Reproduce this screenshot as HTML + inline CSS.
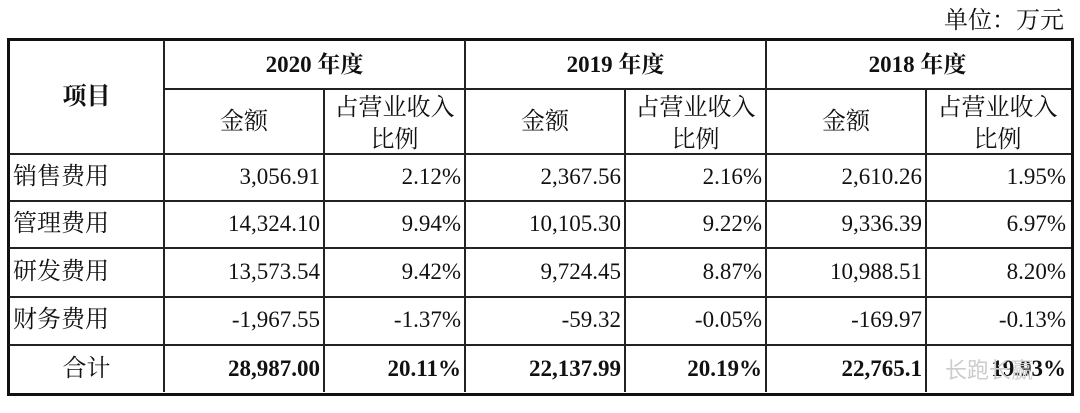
<!DOCTYPE html>
<html><head><meta charset="utf-8"><style>
body{margin:0;width:1080px;height:413px;background:#fff;position:relative;overflow:hidden;font-family:"Liberation Serif","Noto Serif CJK SC","Noto Sans CJK SC",serif;color:#111}
.t{position:absolute;font-size:23px;line-height:26px;white-space:nowrap}
.k{font-size:24px}
.c{text-align:center}.r{text-align:right}.b{font-weight:bold}
.h{position:absolute;background:#222;height:2px}
.v{position:absolute;background:#222;width:2px}
</style></head><body>
<div class="t" style="left:944px;top:8px;font-size:24px">单位：万元</div>
<div style="position:absolute;left:7px;top:38px;width:1061px;height:352px;border:3px solid #111"></div>
<div class="v" style="left:163px;top:40px;height:352px"></div>
<div class="v" style="left:464px;top:40px;height:352px"></div>
<div class="v" style="left:765px;top:40px;height:352px"></div>
<div class="v" style="left:323px;top:88px;height:304px"></div>
<div class="v" style="left:624px;top:88px;height:304px"></div>
<div class="v" style="left:925px;top:88px;height:304px"></div>
<div class="h" style="left:163px;top:88px;width:908px"></div>
<div class="h" style="left:9px;top:153px;width:1062px"></div>
<div class="h" style="left:9px;top:200px;width:1062px"></div>
<div class="h" style="left:9px;top:247px;width:1062px"></div>
<div class="h" style="left:9px;top:296px;width:1062px"></div>
<div class="h" style="left:9px;top:344px;width:1062px"></div>

<div class="t c b k" style="left:10px;width:153px;top:84px">项目</div>
<div class="t c b" style="left:165px;width:299px;top:52px">2020 年度</div>
<div class="t c b" style="left:466px;width:299px;top:52px">2019 年度</div>
<div class="t c b" style="left:767px;width:301px;top:52px">2018 年度</div>
<div class="t c k" style="left:165px;width:158px;top:109px">金额</div>
<div class="t c k" style="left:466px;width:158px;top:109px">金额</div>
<div class="t c k" style="left:767px;width:158px;top:109px">金额</div>
<div class="t c k" style="left:325px;width:139px;top:92px;line-height:32px">占营业收入<br>比例</div>
<div class="t c k" style="left:626px;width:139px;top:92px;line-height:32px">占营业收入<br>比例</div>
<div class="t c k" style="left:927px;width:141px;top:92px;line-height:32px">占营业收入<br>比例</div>

<div style="position:absolute;left:0;top:164px">
<div class="t k" style="left:13px;top:0">销售费用</div>
<div class="t r" style="left:165px;width:155px;top:0">3,056.91</div>
<div class="t r" style="left:325px;width:136px;top:0">2.12%</div>
<div class="t r" style="left:466px;width:155px;top:0">2,367.56</div>
<div class="t r" style="left:626px;width:136px;top:0">2.16%</div>
<div class="t r" style="left:767px;width:155px;top:0">2,610.26</div>
<div class="t r" style="left:927px;width:139px;top:0">1.95%</div>
</div>
<div style="position:absolute;left:0;top:211px">
<div class="t k" style="left:13px;top:0">管理费用</div>
<div class="t r" style="left:165px;width:155px;top:0">14,324.10</div>
<div class="t r" style="left:325px;width:136px;top:0">9.94%</div>
<div class="t r" style="left:466px;width:155px;top:0">10,105.30</div>
<div class="t r" style="left:626px;width:136px;top:0">9.22%</div>
<div class="t r" style="left:767px;width:155px;top:0">9,336.39</div>
<div class="t r" style="left:927px;width:139px;top:0">6.97%</div>
</div>
<div style="position:absolute;left:0;top:259px">
<div class="t k" style="left:13px;top:0">研发费用</div>
<div class="t r" style="left:165px;width:155px;top:0">13,573.54</div>
<div class="t r" style="left:325px;width:136px;top:0">9.42%</div>
<div class="t r" style="left:466px;width:155px;top:0">9,724.45</div>
<div class="t r" style="left:626px;width:136px;top:0">8.87%</div>
<div class="t r" style="left:767px;width:155px;top:0">10,988.51</div>
<div class="t r" style="left:927px;width:139px;top:0">8.20%</div>
</div>
<div style="position:absolute;left:0;top:307px">
<div class="t k" style="left:13px;top:0">财务费用</div>
<div class="t r" style="left:165px;width:155px;top:0">-1,967.55</div>
<div class="t r" style="left:325px;width:136px;top:0">-1.37%</div>
<div class="t r" style="left:466px;width:155px;top:0">-59.32</div>
<div class="t r" style="left:626px;width:136px;top:0">-0.05%</div>
<div class="t r" style="left:767px;width:155px;top:0">-169.97</div>
<div class="t r" style="left:927px;width:139px;top:0">-0.13%</div>
</div>
<div style="position:absolute;left:0;top:356px">
<div class="t c k" style="left:10px;width:153px;top:0">合计</div>
<div class="t r b" style="left:165px;width:155px;top:0">28,987.00</div>
<div class="t r b" style="left:325px;width:136px;top:0">20.11%</div>
<div class="t r b" style="left:466px;width:155px;top:0">22,137.99</div>
<div class="t r b" style="left:626px;width:136px;top:0">20.19%</div>
<div class="t r b" style="left:767px;width:155px;top:0">22,765.1</div>
<div class="t r b" style="left:927px;width:139px;top:0">19.93%</div>
<div class="t" style="left:945px;top:0;color:#ccc;font-family:'Noto Sans CJK SC',sans-serif;font-size:22px">长跑长赢</div>
</div>
</body></html>
